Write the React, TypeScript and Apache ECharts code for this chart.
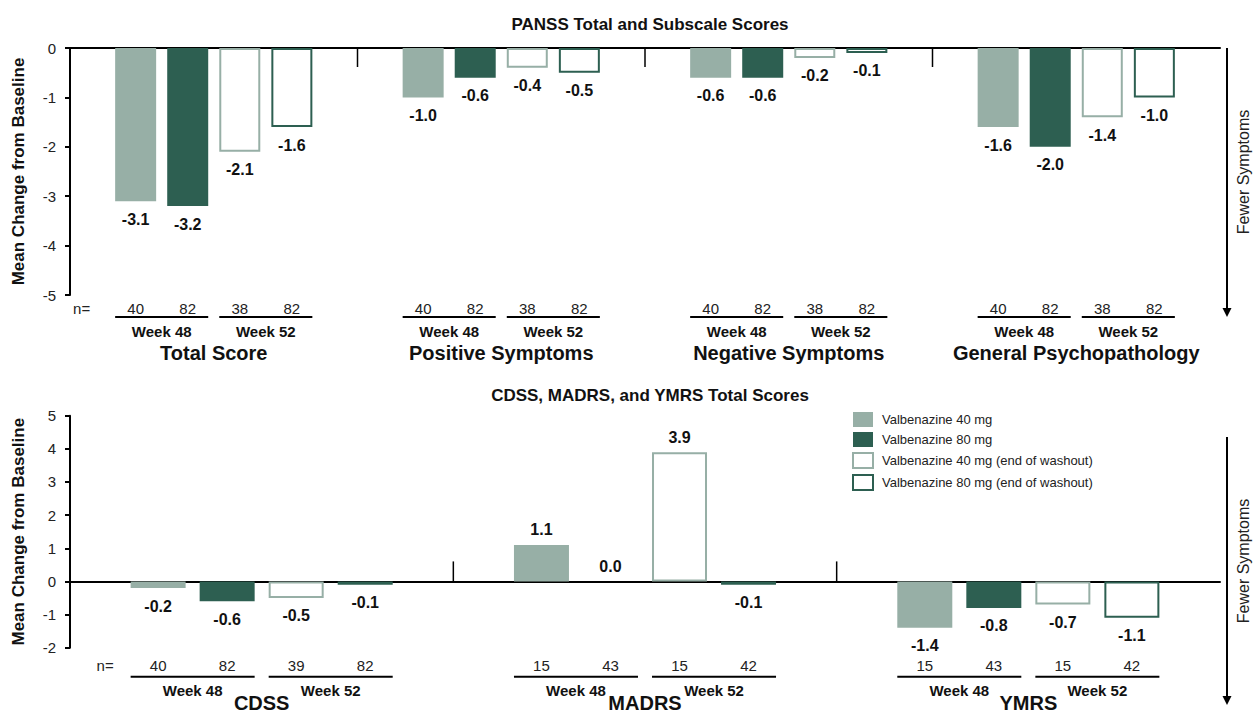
import React, { useEffect, useRef } from "react";
import * as echarts from "echarts";

const FONT = "'Liberation Sans', Arial, Helvetica, sans-serif";

// ---------- Data ----------
const SERIES_NAMES = [
  "Valbenazine 40 mg",
  "Valbenazine 80 mg",
  "Valbenazine 40 mg (end of washout)",
  "Valbenazine 80 mg (end of washout)",
];
const WEEK_LABELS = ["Week 48", "Week 52"];

// PANSS (top)
const panssCategories = ["Total Score", "Positive Symptoms", "Negative Symptoms", "General Psychopathology"];
const panss40w48 = [-3.1, -1.0, -0.6, -1.6];
const panss80w48 = [-3.2, -0.6, -0.6, -2.0];
const panss40w52 = [-2.1, -0.4, -0.2, -1.4];
const panss80w52 = [-1.6, -0.5, -0.1, -1.0];
const panssN = [
  [40, 82, 38, 82],
  [40, 82, 38, 82],
  [40, 82, 38, 82],
  [40, 82, 38, 82],
];
const panssTicks = { min: -5, max: 0, interval: 1 };

// CDSS / MADRS / YMRS (bottom)
const moodCategories = ["CDSS", "MADRS", "YMRS"];
const mood40w48 = [-0.2, 1.1, -1.4];
const mood80w48 = [-0.6, 0.0, -0.8];
const mood40w52 = [-0.5, 3.9, -0.7];
const mood80w52 = [-0.1, -0.1, -1.1];
const moodN = [
  [40, 82, 39, 82],
  [15, 43, 15, 42],
  [15, 43, 15, 42],
];
const moodTicks = { min: -2, max: 5, interval: 1 };

// ---------- Styles ----------
const LIGHT = "#97AFA6";
const DARK = "#2D5F51";
const STYLES = [
  { color: LIGHT },
  { color: DARK },
  { color: "#ffffff", borderColor: LIGHT, borderWidth: 2 },
  { color: "#ffffff", borderColor: DARK, borderWidth: 2 },
];

function barSeries(name: string, values: number[], idx: number, style: any, barWidth: number, barGap: string) {
  return {
    type: "bar",
    name,
    xAxisIndex: idx,
    yAxisIndex: idx,
    barWidth,
    barGap,
    silent: true,
    itemStyle: style,
    data: values.map((v) => ({
      value: v,
      label: { position: v < 0 ? "bottom" : "top", distance: v < 0 ? 10 : 7 },
    })),
    label: {
      show: true,
      formatter: (p: any) => Number(p.value).toFixed(1),
      fontWeight: "bold",
      fontSize: 16,
      color: "#111",
      fontFamily: FONT,
    },
  };
}

function annotationSeries(
  idx: number,
  categories: string[],
  nValues: number[][],
  yMin: number,
  cfg: { barW: number; gap: number; nOff: number; uOff: number; wOff: number; gOff: number; sepLen: number; nDx: number }
) {
  return {
    type: "custom",
    xAxisIndex: idx,
    yAxisIndex: idx,
    silent: true,
    z: 10,
    clip: false,
    data: categories.map((c) => [c, yMin]),
    encode: { x: 0, y: 1 },
    renderItem: (params: any, api: any) => {
      const ci = api.value(0);
      const base = api.coord([ci, yMin]);
      const zero = api.coord([ci, 0]);
      const band = api.size([1, 0])[0];
      const cx = base[0];
      const by = base[1];
      const pitch = cfg.barW * (1 + cfg.gap);
      const centers = [-1.5, -0.5, 0.5, 1.5].map((k) => cx + k * pitch);
      const children: any[] = [];
      const ns = nValues[ci];
      centers.forEach((x, i) => {
        children.push({
          type: "text",
          x,
          y: by + cfg.nOff,
          style: { text: String(ns[i]), align: "center", verticalAlign: "middle", fontSize: 15, fontFamily: FONT, fill: "#222" },
        });
      });
      [0, 2].forEach((s, w) => {
        const x1 = centers[s] - cfg.barW / 2;
        const x2 = centers[s + 1] + cfg.barW / 2;
        children.push({
          type: "line",
          shape: { x1, y1: by + cfg.uOff, x2, y2: by + cfg.uOff },
          style: { stroke: "#000", lineWidth: 2 },
        });
        children.push({
          type: "text",
          x: (centers[s] + centers[s + 1]) / 2,
          y: by + cfg.wOff,
          style: { text: WEEK_LABELS[w], align: "center", verticalAlign: "middle", fontSize: 15, fontWeight: "bold", fontFamily: FONT, fill: "#111" },
        });
      });
      children.push({
        type: "text",
        x: cx,
        y: by + cfg.gOff,
        style: { text: categories[ci], align: "center", verticalAlign: "middle", fontSize: 20, fontWeight: "bold", fontFamily: FONT, fill: "#111" },
      });
      if (ci === 0) {
        children.push({
          type: "text",
          x: centers[0] + cfg.nDx,
          y: by + cfg.nOff,
          style: { text: "n=", align: "center", verticalAlign: "middle", fontSize: 15, fontFamily: FONT, fill: "#222" },
        });
      }
      if (ci < categories.length - 1) {
        const sx = cx + band / 2;
        children.push({
          type: "line",
          shape: { x1: sx, y1: zero[1], x2: sx, y2: zero[1] + cfg.sepLen },
          style: { stroke: "#000", lineWidth: 1.5 },
        });
      }
      return { type: "group", children };
    },
  };
}

function xAxis(idx: number, data: string[]) {
  return {
    type: "category",
    gridIndex: idx,
    data,
    boundaryGap: true,
    axisLine: { show: true, onZero: true, lineStyle: { color: "#000", width: 2 } },
    axisTick: { show: false },
    axisLabel: { show: false },
    splitLine: { show: false },
  };
}

function yAxis(idx: number, t: { min: number; max: number; interval: number }) {
  return {
    type: "value",
    gridIndex: idx,
    min: t.min,
    max: t.max,
    interval: t.interval,
    name: "Mean Change from Baseline",
    nameLocation: "middle",
    nameGap: 43,
    nameTextStyle: { fontSize: 17, fontWeight: "bold", color: "#111", fontFamily: FONT },
    axisLine: { show: true, lineStyle: { color: "#000", width: 2 } },
    axisTick: { show: true, length: 5, lineStyle: { color: "#000", width: 2 } },
    axisLabel: { fontSize: 15, color: "#222", margin: 14, fontFamily: FONT },
    splitLine: { show: false },
  };
}

function arrow(x: number, y1: number, y2: number) {
  return [
    { type: "line", shape: { x1: x, y1, x2: x, y2: y2 - 8 }, style: { stroke: "#000", lineWidth: 2 } },
    { type: "polygon", shape: { points: [[x - 4.5, y2 - 9], [x + 4.5, y2 - 9], [x, y2]] }, style: { fill: "#000" } },
  ];
}

function sideText(x: number, y: number) {
  return {
    type: "text",
    x,
    y,
    rotation: Math.PI / 2,
    style: { text: "Fewer Symptoms", align: "center", verticalAlign: "middle", fontSize: 16, fontFamily: FONT, fill: "#222" },
  };
}

export default function App() {
  const ref = useRef<HTMLDivElement>(null);
  useEffect(() => {
    if (!ref.current) return;
    const chart = echarts.init(ref.current, null, { renderer: "svg" });
    const topSets = [panss40w48, panss80w48, panss40w52, panss80w52];
    const botSets = [mood40w48, mood80w48, mood40w52, mood80w52];
    const option: any = {
      animation: false,
      backgroundColor: "#ffffff",
      textStyle: { fontFamily: FONT },
      title: [
        {
          text: "PANSS Total and Subscale Scores",
          left: 645,
          top: 11,
          textAlign: "center",
          textStyle: { fontSize: 17, fontWeight: "bold", color: "#111", fontFamily: FONT },
        },
        {
          text: "CDSS, MADRS, and YMRS Total Scores",
          left: 645,
          top: 382,
          textAlign: "center",
          textStyle: { fontSize: 17, fontWeight: "bold", color: "#111", fontFamily: FONT },
        },
      ],
      legend: {
        data: SERIES_NAMES,
        orient: "vertical",
        left: 847,
        top: 407,
        itemWidth: 20,
        itemHeight: 15,
        itemGap: 5,
        icon: "rect",
        selectedMode: false,
        textStyle: { fontSize: 13, color: "#222", fontFamily: FONT, padding: [0, 0, 0, 4] },
      },
      grid: [
        { left: 70, width: 1150, top: 48, height: 247 },
        { left: 70, width: 1150, top: 415.7, height: 232 },
      ],
      xAxis: [xAxis(0, panssCategories), xAxis(1, moodCategories)],
      yAxis: [yAxis(0, panssTicks), yAxis(1, moodTicks)],
      series: [
        ...topSets.map((d, i) => barSeries(SERIES_NAMES[i], d, 0, STYLES[i], 41, "27%")),
        ...botSets.map((d, i) => barSeries(SERIES_NAMES[i], d, 1, STYLES[i], 55, "25.5%")),
        annotationSeries(0, panssCategories, panssN, panssTicks.min, {
          barW: 41, gap: 0.27, nOff: 13, uOff: 22, wOff: 36, gOff: 58, sepLen: 19, nDx: -54,
        }),
        annotationSeries(1, moodCategories, moodN, moodTicks.min, {
          barW: 55, gap: 0.255, nOff: 18, uOff: 29, wOff: 43, gOff: 55, sepLen: -20, nDx: -53,
        }),
      ],
      graphic: [
        ...arrow(1227, 48, 317),
        ...arrow(1227, 437, 705),
        sideText(1243, 172),
        sideText(1243, 561),
      ],
    };
    chart.setOption(option);
    return () => chart.dispose();
  }, []);
  return (
    <div
      ref={ref}
      style={{ position: "fixed", left: 0, top: 0, width: 1255, height: 714, background: "#fff" }}
    />
  );
}
